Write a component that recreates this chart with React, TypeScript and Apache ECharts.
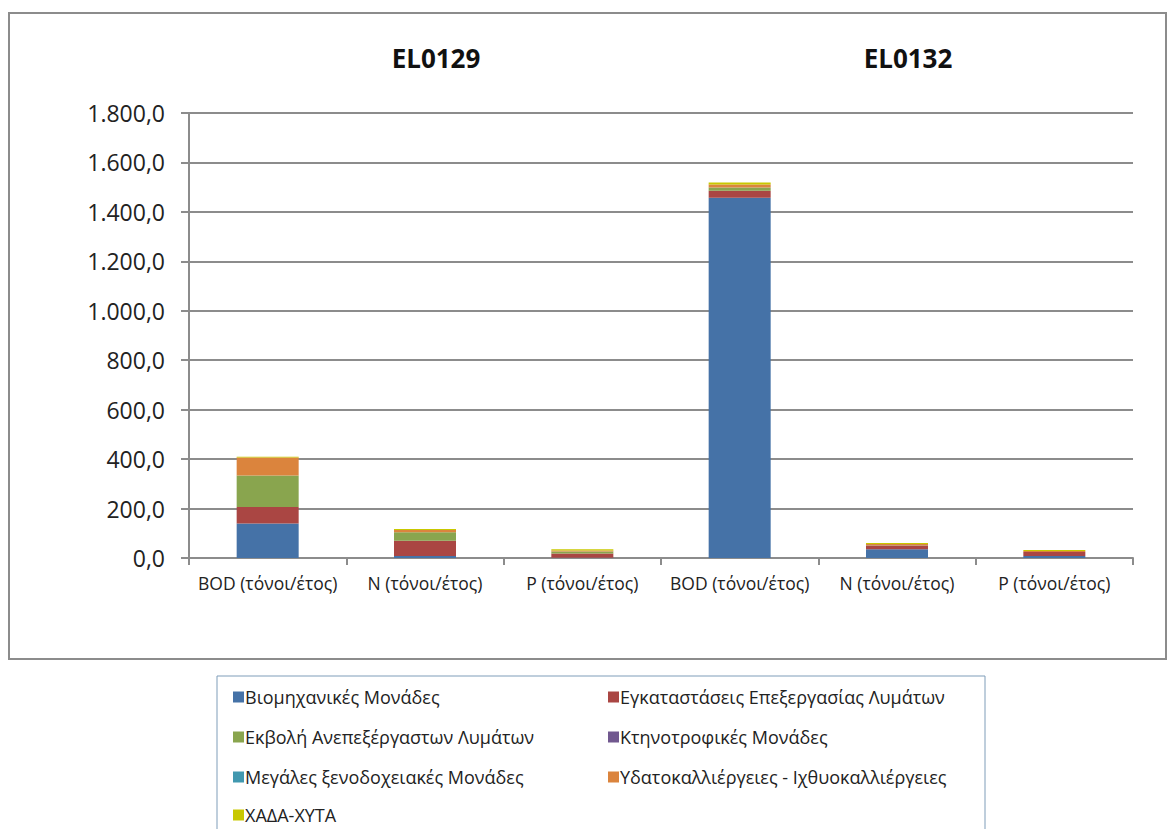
import React, { useEffect, useRef } from "react";
import * as echarts from "echarts";

const categories = [
  "BOD (τόνοι/έτος)",
  "N (τόνοι/έτος)",
  "P (τόνοι/έτος)",
  "BOD (τόνοι/έτος)",
  "N (τόνοι/έτος)",
  "P (τόνοι/έτος)",
];
const groups = ["EL0129", "EL0132"];
const yTicks = [0, 200, 400, 600, 800, 1000, 1200, 1400, 1600, 1800];

const seriesNames = [
  "Βιομηχανικές Μονάδες",
  "Εγκαταστάσεις Επεξεργασίας Λυμάτων",
  "Εκβολή Ανεπεξέργαστων Λυμάτων",
  "Κτηνοτροφικές Μονάδες",
  "Μεγάλες ξενοδοχειακές Μονάδες",
  "Υδατοκαλλιέργειες - Ιχθυοκαλλιέργειες",
  "ΧΑΔΑ-ΧΥΤΑ",
];
const seriesColors = ["#4572A7", "#AA4643", "#89A54E", "#71588F", "#4198AF", "#DB843D", "#C8C800"];

const industrial = [140, 8, 1, 1457, 35, 8];
const wastewater = [66, 62, 17, 29, 16, 16];
const untreated = [128, 34, 8, 13, 1, 0];
const livestock = [0, 0, 0, 0, 0, 0];
const hotels = [0, 0, 0, 0, 0, 0];
const aquaculture = [73, 9, 4, 12, 5, 4];
const landfills = [3, 4, 5, 8, 4, 4];
const seriesValues = [industrial, wastewater, untreated, livestock, hotels, aquaculture, landfills];

const fmt = (v: number) => {
  const s = Math.round(v).toString().replace(/\B(?=(\d{3})+(?!\d))/g, ".");
  return s + ",0";
};

export default function App() {
  const ref = useRef<HTMLDivElement>(null);
  useEffect(() => {
    if (!ref.current) return;
    const chart = echarts.init(ref.current, null, { renderer: "svg" });
    const font = "'Open Sans', 'Noto Sans', sans-serif";
    const legendCommon = {
      orient: "vertical",
      itemWidth: 11,
      itemHeight: 11,
      itemGap: 22,
      icon: "rect",
      textStyle: { fontSize: 18, lineHeight: 18, color: "#222", fontFamily: font, padding: [0, 0, 0, -4] },
    };
    chart.setOption({
      animation: false,
      backgroundColor: "#ffffff",
      textStyle: { fontFamily: font },
      grid: { left: 189, right: 43, top: 113, bottom: 271 },
      xAxis: [
        {
          type: "category",
          data: categories,
          position: "bottom",
          axisLine: { lineStyle: { color: "#8c8c8c", width: 2 } },
          axisTick: { show: true, length: 7, lineStyle: { color: "#8c8c8c", width: 2 } },
          axisLabel: { color: "#222", fontSize: 17.5, margin: 16, interval: 0, hideOverlap: false, fontFamily: font },
        },
        {
          type: "category",
          data: groups,
          position: "top",
          axisLine: { show: false },
          axisTick: { show: false },
          axisLabel: {
            color: "#111",
            fontSize: 26,
            fontWeight: "bold",
            margin: 42,
            padding: [0, 0, 0, 22],
            fontFamily: font,
          },
        },
      ],
      yAxis: {
        type: "value",
        min: 0,
        max: 1800,
        interval: 200,
        axisLine: { show: true, lineStyle: { color: "#8c8c8c", width: 2 } },
        axisTick: { show: true, length: 8, lineStyle: { color: "#8c8c8c", width: 2 } },
        splitLine: { lineStyle: { color: "#8c8c8c", width: 2 } },
        axisLabel: {
          color: "#222",
          fontSize: 23,
          margin: 24,
          fontFamily: font,
          formatter: (v: number) => (yTicks.includes(v) ? fmt(v) : ""),
        },
      },
      legend: [
        { ...legendCommon, data: [seriesNames[0], seriesNames[2], seriesNames[4]], left: 228, top: 683 },
        { ...legendCommon, data: [seriesNames[1], seriesNames[3], seriesNames[5]], left: 603, top: 683 },
        { ...legendCommon, data: [seriesNames[6]], left: 228, top: 801 },
      ],
      graphic: [
        {
          type: "rect",
          shape: { x: 9, y: 13, width: 1157, height: 646 },
          style: { fill: "none", stroke: "#8c8c8c", lineWidth: 2 },
          silent: true,
        },
        {
          type: "rect",
          shape: { x: 217, y: 676, width: 768, height: 170 },
          style: { fill: "none", stroke: "#7f9db9", lineWidth: 1 },
          silent: true,
        },
      ],
      series: seriesNames.map((name, i) => ({
        name,
        type: "bar",
        stack: "total",
        xAxisIndex: 0,
        data: seriesValues[i],
        barWidth: 62,
        itemStyle: { color: seriesColors[i] },
      })),
    });
    return () => chart.dispose();
  }, []);
  return <div ref={ref} style={{ position: "fixed", left: 0, top: 0, width: 1176, height: 829 }} />;
}
